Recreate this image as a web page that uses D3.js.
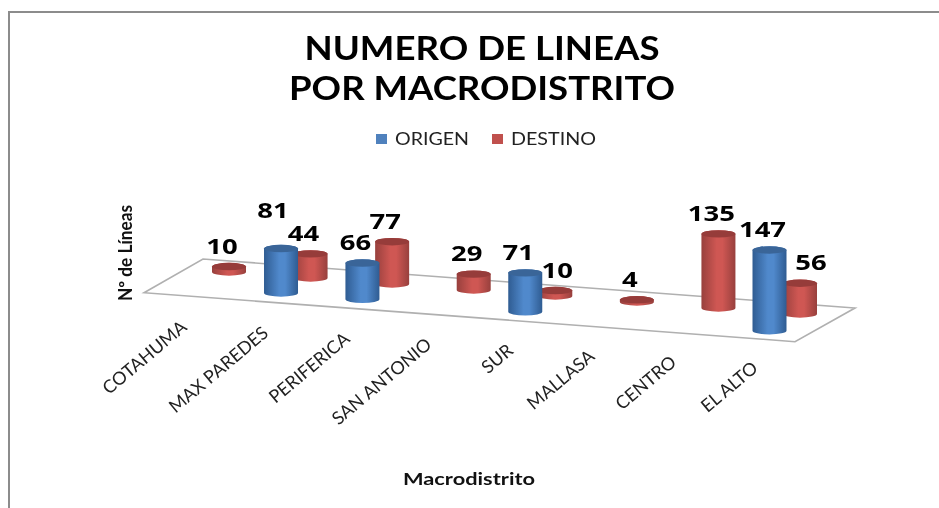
<!DOCTYPE html>
<html><head><meta charset="utf-8">
<script src="https://cdnjs.cloudflare.com/ajax/libs/d3/7.8.5/d3.min.js"></script>
<style>html,body{margin:0;padding:0;background:#fff}svg{display:block;filter:blur(0.35px)}</style>
</head><body><svg id="c" width="939" height="508"></svg>
<script>
const categories = ["COTAHUMA","MAX PAREDES","PERIFERICA","SAN ANTONIO","SUR","MALLASA","CENTRO","EL ALTO"];
const origen  = [null,81,66,null,71,null,null,147];
const destino = [10,44,77,29,10,4,135,56];
const seriesNames = ["ORIGEN","DESTINO"];
const titleLines = ["NUMERO DE LINEAS","POR MACRODISTRITO"];
const yTitle = "Nº de Líneas";
const xTitle = "Macrodistrito";

const svg = d3.select("#c");
const idx = categories.map((_,i)=>i);
const R = 17, RY = 3.7;
const hScale = d3.scaleLinear().domain([0,147]).range([0,80.7]);
const layout = [
  {name:"DESTINO", values:destino, x:d3.scaleLinear().domain([0,7]).range([229,800]), base:d3.scaleLinear().domain([0,7]).range([272,314]),
   edge:"#98403d", mid:"#cf5753", top:"#963c3a"},
  {name:"ORIGEN", values:origen, x:d3.scaleLinear().domain([0,7]).range([199.6,769.5]), base:d3.scaleLinear().domain([0,7]).range([286.7,330.7]),
   edge:"#2f5c92", mid:"#5089cc", top:"#3a6598"}
];
const defs = svg.append("defs");
layout.forEach(s=>{
  const g = defs.append("linearGradient").attr("id","g"+s.name).attr("x1",0).attr("x2",1).attr("y1",0).attr("y2",0);
  [[0,s.edge],[.45,s.mid],[.62,s.mid],[1,s.edge]].forEach(([o,c])=>g.append("stop").attr("offset",o).attr("stop-color",c));
});

// frame
svg.append("path").attr("d","M9,508V12H939").attr("fill","none").attr("stroke","#8c8c8c").attr("stroke-width",2);

// title
svg.selectAll(".t").data(titleLines).join("text").attr("class","t")
  .attr("x",482).attr("y",(d,i)=>[60,100][i])
  .attr("text-anchor","middle").attr("font-family","Lato").attr("font-weight",700).attr("font-size",33)
  .attr("textLength",(d,i)=>[355,386][i]).attr("lengthAdjust","spacingAndGlyphs").attr("fill","#000").text(d=>d);

// legend
const legend = [{n:"ORIGEN",sx:376,tx:395,w:74,c:"#4f81bd"},{n:"DESTINO",sx:492,tx:511,w:85,c:"#c0504d"}];
legend.forEach(l=>{
  svg.append("rect").attr("x",l.sx).attr("y",134).attr("width",11).attr("height",10).attr("fill",l.c);
  svg.append("text").attr("x",l.tx).attr("y",145).attr("font-family","Lato").attr("font-size",18)
    .attr("textLength",l.w).attr("lengthAdjust","spacingAndGlyphs").attr("fill","#222").text(l.n);
});

// y title
svg.append("text").attr("transform","translate(132,301) rotate(-90)").attr("font-family","Lato").attr("font-weight",700)
  .attr("font-size",18).attr("textLength",96).attr("lengthAdjust","spacingAndGlyphs").attr("fill","#111").text(yTitle);

// floor
svg.append("path").attr("d","M144,292.7L203,259L855,308L795,341.7Z").attr("fill","#fff").attr("stroke","#b0b0b0").attr("stroke-width",1.6);

// cylinders
layout.forEach(s=>{
  const data = idx.filter(i=>s.values[i]!=null);
  const g = svg.append("g").selectAll("g").data(data).join("g");
  g.append("path").attr("fill",`url(#g${s.name})`).attr("d",i=>{
    const x=s.x(i), b=s.base(i), t=b-hScale(s.values[i]);
    return `M${x-R},${t}L${x-R},${b}A${R},${RY} 0 0 0 ${x+R},${b}L${x+R},${t}A${R},${RY} 0 0 0 ${x-R},${t}Z`;
  });
  g.append("ellipse").attr("cx",i=>s.x(i)).attr("cy",i=>s.base(i)-hScale(s.values[i]))
    .attr("rx",R).attr("ry",RY).attr("fill",s.top);
});

// value labels
const nudge = {"ORIGEN:1":[-1,-18],"DESTINO:4":[9,0],"DESTINO:7":[18,0]};
layout.forEach(s=>{
  idx.filter(i=>s.values[i]!=null).forEach(i=>{
    const n = nudge[s.name+":"+i]||[0,0], str=String(s.values[i]);
    svg.append("text").attr("x",s.x(i)-7+n[0]).attr("y",s.base(i)-hScale(s.values[i])-13+n[1])
      .attr("text-anchor","middle").attr("font-family","Open Sans").attr("font-weight",700).attr("font-size",22)
      .attr("textLength",str.length*15.7).attr("lengthAdjust","spacingAndGlyphs").attr("fill","#000").text(str);
  });
});

// category labels
const catX = d3.scalePoint().domain(categories).range([188,759]);
const catY = d3.scaleLinear().domain([0,7]).range([329,370]);
svg.selectAll(".c").data(categories).join("text").attr("class","c")
  .attr("transform",(d,i)=>`translate(${catX(d)},${catY(i)}) rotate(-40)`)
  .attr("text-anchor","end").attr("font-family","Lato").attr("font-size",18).attr("fill","#222").text(d=>d);

// x title
svg.append("text").attr("x",469).attr("y",485).attr("text-anchor","middle").attr("font-family","Lato").attr("font-weight",700)
  .attr("font-size",17).attr("textLength",132).attr("lengthAdjust","spacingAndGlyphs").attr("fill","#111").text(xTitle);
</script></body></html>
